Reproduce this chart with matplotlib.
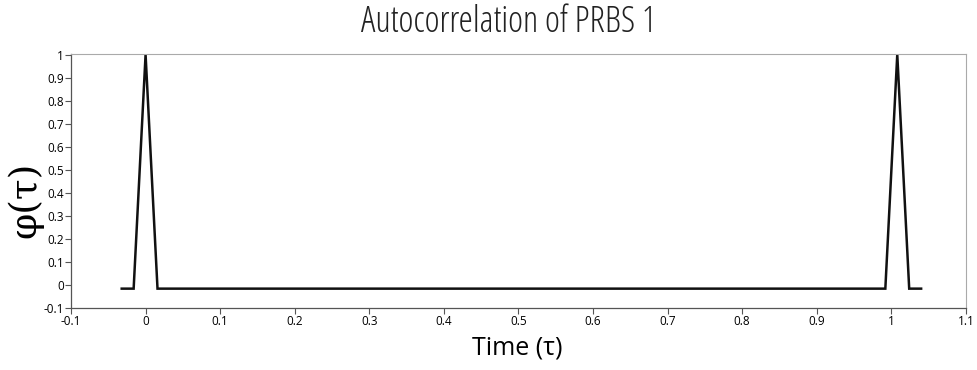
import numpy as np
from matplotlib import pyplot as plt

# breakpoints of the autocorrelation curve (lag in s, value)
lag = [-0.032, -0.016, 0.0, 0.016, 0.992, 1.008, 1.024, 1.040]
phi = [-0.016, -0.016, 1.0, -0.016, -0.016, 1.0, -0.016, -0.016]

x_ticks = [-0.1, 0, 0.1, 0.2, 0.3, 0.4, 0.5, 0.6, 0.7, 0.8, 0.9, 1, 1.1]
y_ticks = [-0.1, 0, 0.1, 0.2, 0.3, 0.4, 0.5, 0.6, 0.7, 0.8, 0.9, 1]

plt.rcParams['font.family'] = ['Open Sans', 'DejaVu Sans']

fig = plt.figure(figsize=(9.78, 3.7), dpi=100)
ax = fig.add_axes([0.0726, 0.1676, 0.915, 0.6878])

ax.plot(lag, phi, color='#111111', lw=1.8, solid_joinstyle='miter')

ax.set_xlim(-0.1, 1.1)
ax.set_ylim(-0.1, 1.005)
ax.set_xticks(x_ticks)
ax.set_xticklabels(['%g' % t for t in x_ticks])
ax.set_yticks(y_ticks)
ax.set_yticklabels(['%g' % t for t in y_ticks])
ax.tick_params(labelsize=8.5, length=4, width=0.8, color='#555555', pad=1)

for side in ['left', 'bottom']:
    ax.spines[side].set_color('#555555')
    ax.spines[side].set_linewidth(0.9)
for side in ['top', 'right']:
    ax.spines[side].set_color('#aaaaaa')
    ax.spines[side].set_linewidth(0.8)

fig.text(0.52, 0.94, 'Autocorrelation of PRBS 1', ha='center', va='center',
         fontsize=26, stretch='condensed', color='#222222')
fig.text(0.529, 0.06, 'Time (\u03c4)', ha='center', va='center', fontsize=18)
fig.text(0.026, 0.46, '\u03c6(\u03c4)', ha='center', va='center', rotation=90,
         fontsize=27, family=['DejaVu Serif'])

fig.savefig('out.png', dpi=100)
